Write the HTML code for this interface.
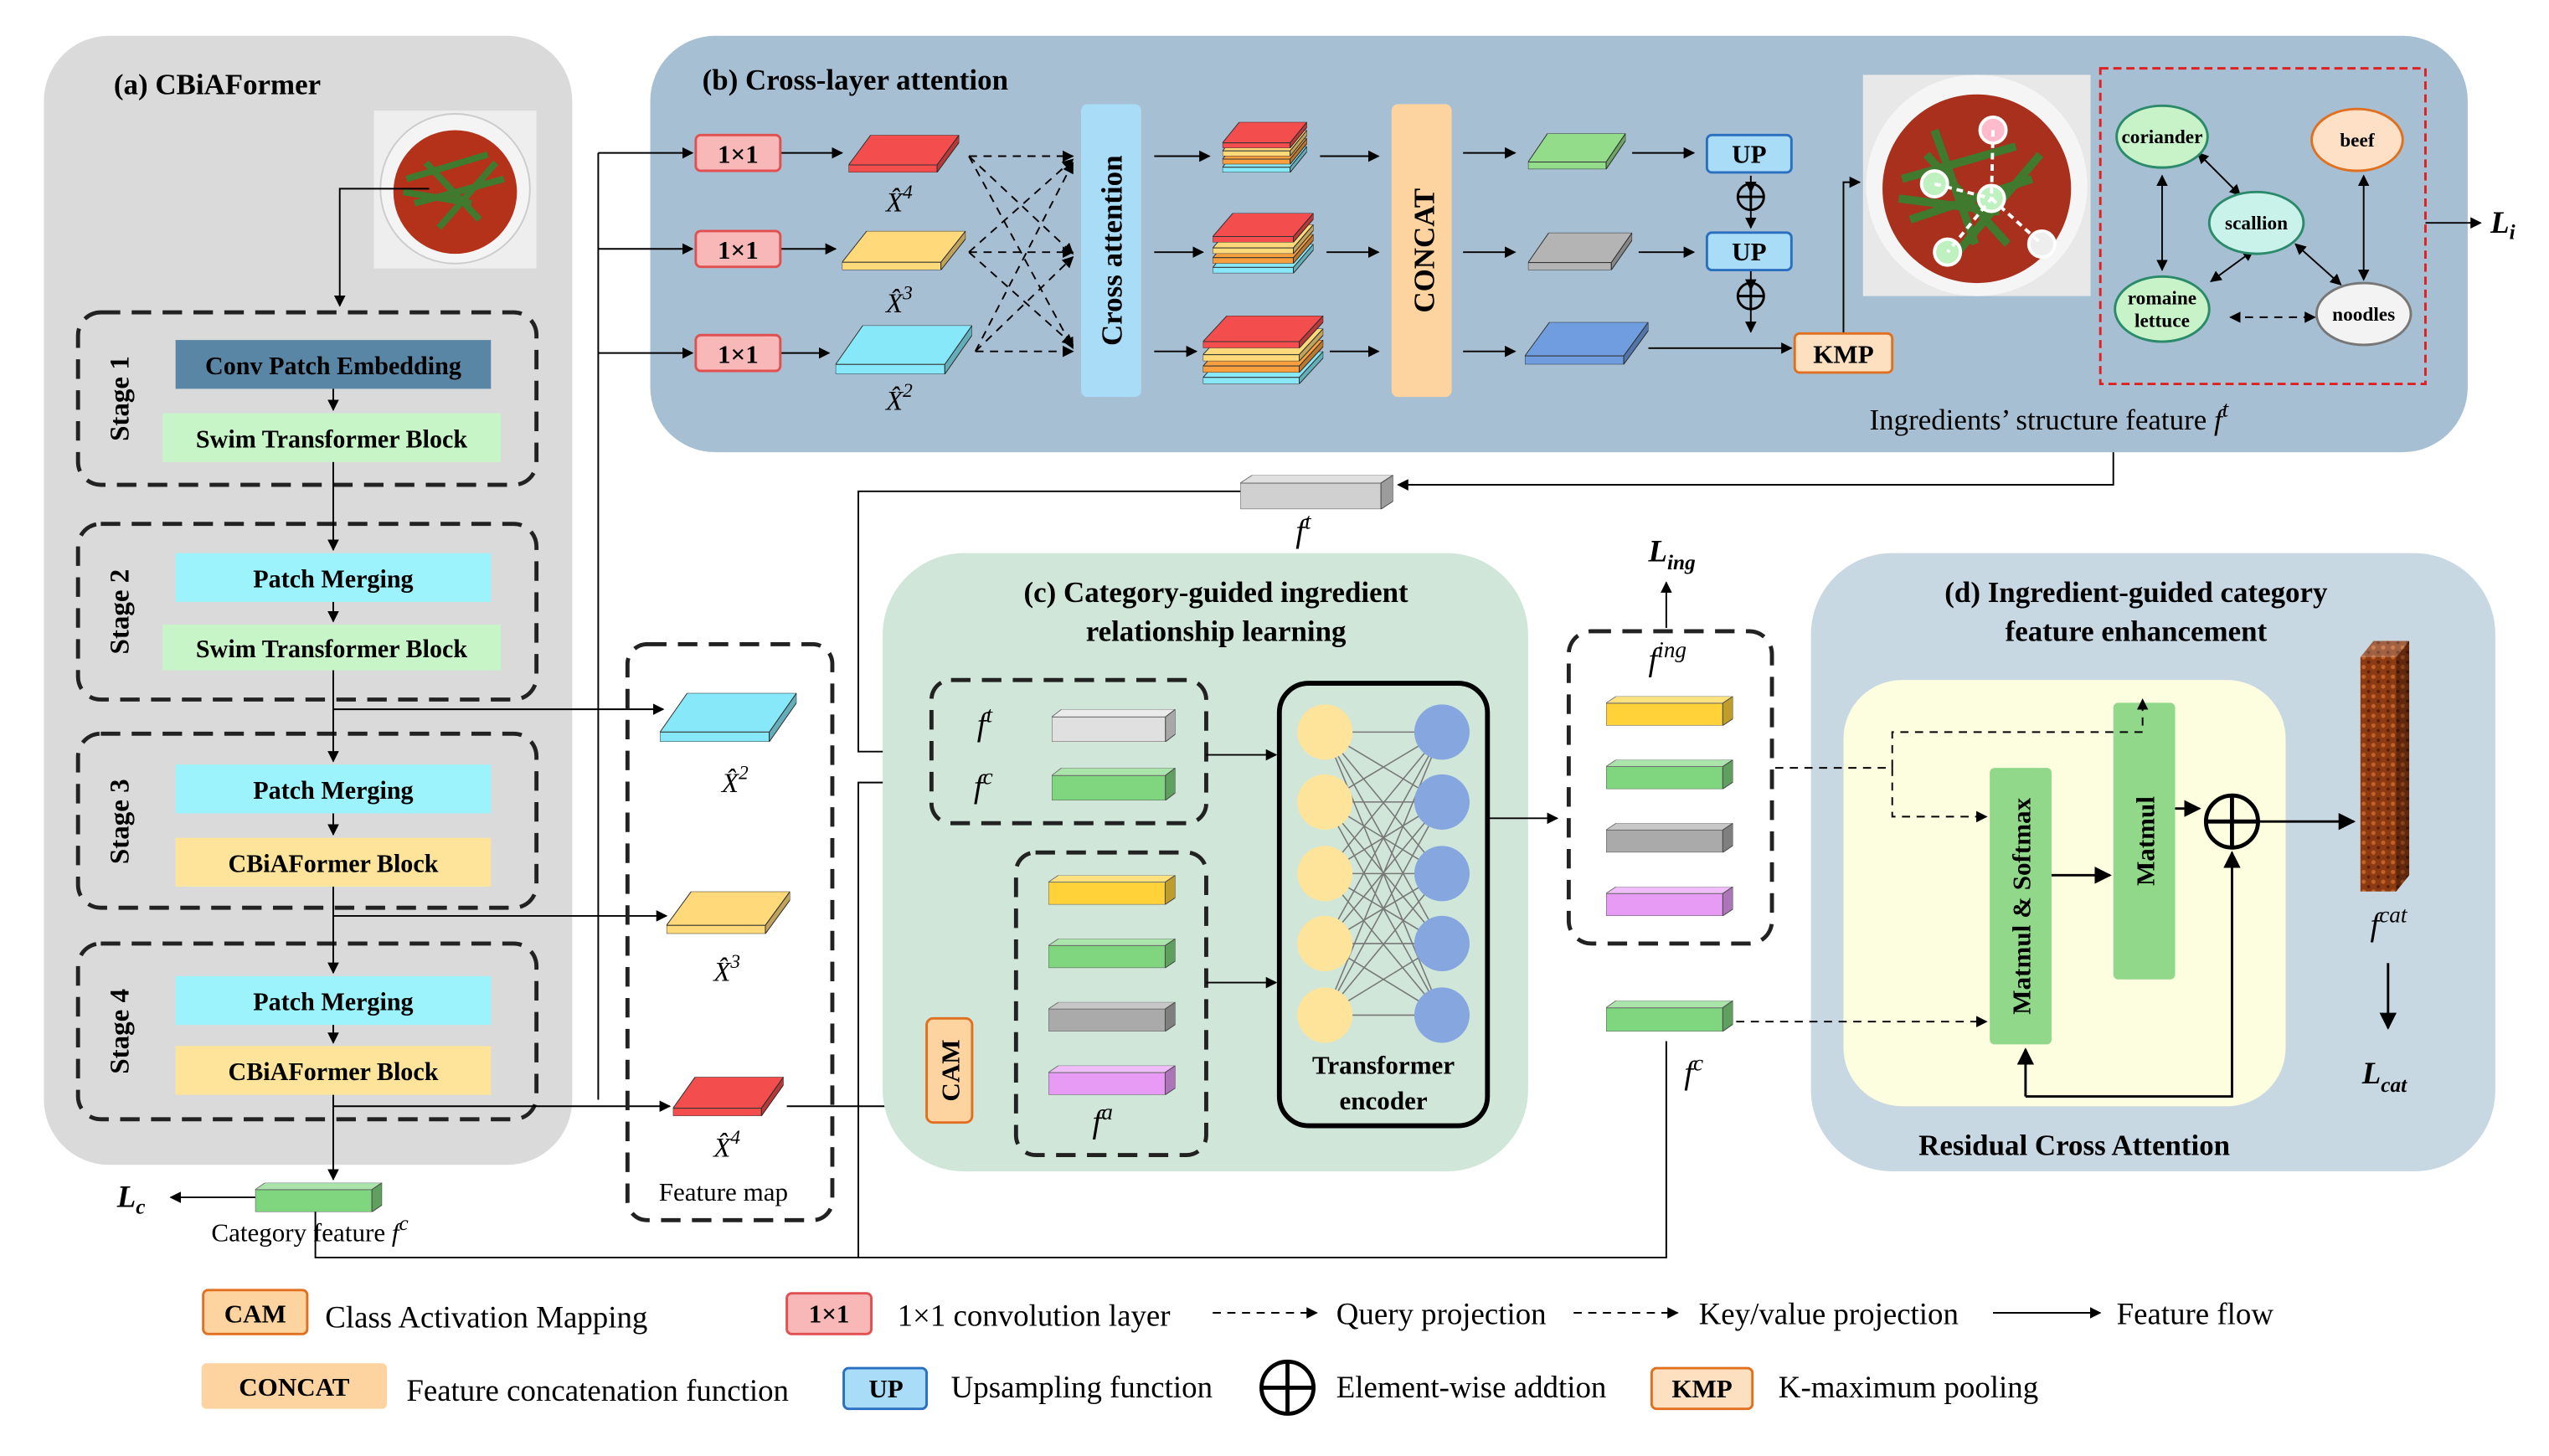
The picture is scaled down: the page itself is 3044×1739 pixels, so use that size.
<!DOCTYPE html>
<html><head><meta charset="utf-8"><style>
html,body{margin:0;padding:0;background:#fff}
svg{display:block}
text{font-family:"Liberation Serif",serif;fill:#000}
.b{font-weight:bold}
</style></head><body>
<svg width="3044" height="1739" viewBox="0 0 1568 895" preserveAspectRatio="none" xmlns="http://www.w3.org/2000/svg">
<defs>
<marker id="a" viewBox="0 0 10 10" refX="9" refY="5" markerWidth="7" markerHeight="7" orient="auto-start-reverse"><path d="M0,0 L10,5 L0,10 z" fill="#000"/></marker>
<symbol id="s" viewBox="0 0 100 30" preserveAspectRatio="none">
<rect x="0" y="7" width="92" height="23" stroke="#555" stroke-width="1" vector-effect="non-scaling-stroke"/>
<polygon points="0,7 8,0 100,0 92,7" stroke="#555" vector-effect="non-scaling-stroke"/>
<polygon points="0,7 8,0 100,0 92,7" fill="#fff" opacity=".35"/>
<polygon points="92,7 100,0 100,23 92,30" stroke="#555" vector-effect="non-scaling-stroke"/>
<polygon points="92,7 100,0 100,23 92,30" fill="#000" opacity=".25"/>
</symbol>
<symbol id="f" viewBox="0 0 100 30" preserveAspectRatio="none">
<polygon points="0,24 20,0 100,0 80,24" stroke="#333" vector-effect="non-scaling-stroke"/>
<polygon points="0,24 80,24 80,30 0,30" stroke="#333" vector-effect="non-scaling-stroke"/>
<polygon points="80,24 100,0 100,6 80,30" stroke="#333" vector-effect="non-scaling-stroke"/>
<polygon points="80,24 100,0 100,6 80,30" fill="#000" opacity=".25"/>
</symbol>
<pattern id="br" width="6" height="6" patternUnits="userSpaceOnUse"><rect width="6" height="6" fill="#8b3a12"/><circle cx="2" cy="2" r="1.3" fill="#c0622a"/><circle cx="5" cy="5" r="1" fill="#5a2008"/></pattern>
</defs>

<!-- Panel a -->
<rect x="27" y="22" width="325" height="694" rx="40" fill="#dadada"/>
<text x="70" y="58" font-size="18" class="b">(a) CBiAFormer</text>
<g>
<rect x="230" y="68" width="100" height="97" fill="#eee"/>
<circle cx="280" cy="116" r="46" fill="#f4f4f4" stroke="#ccc"/>
<circle cx="280" cy="118" r="38" fill="#b5321a"/>
<path d="M250,110 L300,95 M255,125 L310,110 M262,100 L295,135 M270,140 L305,100 M248,118 L290,125" stroke="#3f7a2e" stroke-width="4"/>
</g>
<path d="M264,116 H209 V188" fill="none" stroke="#000" marker-end="url(#a)"/>
<g fill="none" stroke="#222" stroke-width="2.5" stroke-dasharray="12,7">
<rect x="48" y="192" width="282" height="106" rx="14"/>
<rect x="48" y="322" width="282" height="108" rx="14"/>
<rect x="48" y="451" width="282" height="107" rx="14"/>
<rect x="48" y="580" width="282" height="108" rx="14"/>
</g>
<g font-size="17" class="b">
<text transform="translate(79,245) rotate(-90)" text-anchor="middle">Stage 1</text>
<text transform="translate(79,376) rotate(-90)" text-anchor="middle">Stage 2</text>
<text transform="translate(79,505) rotate(-90)" text-anchor="middle">Stage 3</text>
<text transform="translate(79,634) rotate(-90)" text-anchor="middle">Stage 4</text>
</g>
<rect x="108" y="209" width="194" height="30" fill="#5a86a6"/>
<rect x="100" y="254" width="208" height="30" fill="#c8f5c8"/>
<rect x="108" y="340" width="194" height="30" fill="#9cf3fb"/>
<rect x="100" y="384" width="208" height="28" fill="#c8f5c8"/>
<rect x="108" y="470" width="194" height="30" fill="#9cf3fb"/>
<rect x="108" y="515" width="194" height="30" fill="#fde49a"/>
<rect x="108" y="600" width="194" height="30" fill="#9cf3fb"/>
<rect x="108" y="643" width="194" height="30" fill="#fde49a"/>
<g font-size="15.5" class="b" text-anchor="middle">
<text x="205" y="230">Conv Patch Embedding</text>
<text x="204" y="275">Swim Transformer Block</text>
<text x="205" y="361">Patch Merging</text>
<text x="204" y="404">Swim Transformer Block</text>
<text x="205" y="491">Patch Merging</text>
<text x="205" y="536">CBiAFormer Block</text>
<text x="205" y="621">Patch Merging</text>
<text x="205" y="664">CBiAFormer Block</text>
</g>
<g stroke="#000" fill="none" marker-end="url(#a)">
<path d="M205,239 V252"/><path d="M205,284 V338"/><path d="M205,370 V382"/>
<path d="M205,412 V468"/><path d="M205,500 V513"/><path d="M205,545 V598"/>
<path d="M205,630 V641"/><path d="M205,673 V725"/>
<path d="M158,736 H105"/>
<path d="M205,436 H408"/><path d="M205,563 H410"/><path d="M205,680 H412"/>
</g>
<use href="#s" x="157" y="727" width="78" height="18" fill="#7fd67f"/>
<text x="72" y="742" font-size="19" class="b" font-style="italic">L<tspan font-size="13" dy="4">c</tspan></text>
<text x="130" y="763" font-size="16">Category feature <tspan font-style="italic">f</tspan><tspan font-size="13" dy="-7" font-style="italic">c</tspan></text>

<!-- Panel b -->
<rect x="400" y="22" width="1118" height="256" rx="40" fill="#a7bfd3"/>
<text x="432" y="55" font-size="18" class="b">(b) Cross-layer attention</text>
<g stroke="#000" fill="none">
<path d="M368,676 V94"/>
<path d="M368,94 H426" marker-end="url(#a)"/>
<path d="M368,153 H426" marker-end="url(#a)"/>
<path d="M368,217 H426" marker-end="url(#a)"/>
<path d="M480,94 H518" marker-end="url(#a)"/>
<path d="M480,153 H514" marker-end="url(#a)"/>
<path d="M480,217 H510" marker-end="url(#a)"/>
</g>
<g fill="#f9b8b8" stroke="#e05050" stroke-width="1.5">
<rect x="428" y="83" width="52" height="22" rx="3"/><rect x="428" y="142" width="52" height="22" rx="3"/><rect x="428" y="206" width="52" height="22" rx="3"/>
</g>
<g font-size="16" class="b" text-anchor="middle"><text x="454" y="100">1×1</text><text x="454" y="159">1×1</text><text x="454" y="223">1×1</text></g>
<use href="#f" x="522" y="83" width="68" height="23" fill="#f44d4d"/>
<use href="#f" x="518" y="142" width="76" height="24" fill="#ffd97a"/>
<use href="#f" x="514" y="200" width="84" height="30" fill="#86e8f8"/>
<g font-size="17" font-style="italic"><text x="545" y="130">X̂<tspan font-size="12" dy="-8">4</tspan></text><text x="545" y="192">X̂<tspan font-size="12" dy="-8">3</tspan></text><text x="545" y="252">X̂<tspan font-size="12" dy="-8">2</tspan></text></g>
<g stroke="#000" fill="none" stroke-dasharray="5,4" marker-end="url(#a)">
<path d="M596,96 H660"/><path d="M596,96 L660,156"/><path d="M596,96 L660,214"/>
<path d="M596,155 L660,98"/><path d="M596,155 H660"/><path d="M596,155 L660,212"/>
<path d="M600,216 L660,100"/><path d="M600,216 L660,158"/><path d="M600,216 H660"/>
</g>
<rect x="665" y="64" width="37" height="180" rx="4" fill="#a9dcf6"/>
<text transform="translate(690,154) rotate(-90)" font-size="18" class="b" text-anchor="middle">Cross attention</text>
<g stroke="#000" fill="none" marker-end="url(#a)">
<path d="M710,96 H744"/><path d="M710,155 H740"/><path d="M710,216 H736"/>
<path d="M812,96 H848"/><path d="M816,155 H848"/><path d="M818,216 H848"/>
<path d="M900,94 H932"/><path d="M900,155 H932"/><path d="M900,216 H932"/>
<path d="M1004,94 H1042"/><path d="M1008,155 H1042"/>
<path d="M1014,214 H1102"/>
<path d="M1077,108 V118"/><path d="M1077,166 V178"/>
<path d="M1077,129 V140"/><path d="M1077,190 V204"/>
<path d="M1134,205 V112 H1144"/>
<path d="M1492,137 H1526"/>
</g>
<g>
<use href="#f" x="752" y="90" width="52" height="16" fill="#86e8f8"/>
<use href="#f" x="752" y="85" width="52" height="16" fill="#f8a040"/>
<use href="#f" x="752" y="80" width="52" height="16" fill="#ffd97a"/>
<use href="#f" x="752" y="75" width="52" height="16" fill="#f44d4d"/>
<use href="#f" x="746" y="150" width="62" height="18" fill="#86e8f8"/>
<use href="#f" x="746" y="144" width="62" height="18" fill="#f8a040"/>
<use href="#f" x="746" y="138" width="62" height="18" fill="#ffd97a"/>
<use href="#f" x="746" y="131" width="62" height="18" fill="#f44d4d"/>
<use href="#f" x="740" y="216" width="74" height="20" fill="#86e8f8"/>
<use href="#f" x="740" y="209" width="74" height="20" fill="#f8a040"/>
<use href="#f" x="740" y="202" width="74" height="20" fill="#ffd97a"/>
<use href="#f" x="740" y="194" width="74" height="20" fill="#f44d4d"/>
</g>
<rect x="856" y="64" width="37" height="180" rx="4" fill="#fdd3a0"/>
<text transform="translate(882,154) rotate(-90)" font-size="18" class="b" text-anchor="middle">CONCAT</text>
<use href="#f" x="940" y="82" width="60" height="22" fill="#93dc8a"/>
<use href="#f" x="940" y="143" width="64" height="23" fill="#b4b4b4"/>
<use href="#f" x="938" y="198" width="76" height="26" fill="#6f9de0"/>
<g fill="#a9dcf6" stroke="#2a6fc0" stroke-width="1.5"><rect x="1050" y="83" width="52" height="23" rx="3"/><rect x="1050" y="143" width="52" height="23" rx="3"/></g>
<g font-size="16" class="b" text-anchor="middle"><text x="1076" y="100">UP</text><text x="1076" y="160">UP</text></g>
<g fill="none" stroke="#000" stroke-width="1.5"><circle cx="1077" cy="121" r="8"/><path d="M1069,121 H1085 M1077,113 V129"/><circle cx="1077" cy="182" r="8"/><path d="M1069,182 H1085 M1077,174 V190"/></g>
<rect x="1104" y="205" width="60" height="24" rx="3" fill="#fde0c0" stroke="#e07020" stroke-width="1.5"/>
<text x="1134" y="223" font-size="16" class="b" text-anchor="middle">KMP</text>
<g>
<rect x="1146" y="46" width="140" height="136" fill="#e8e8e8"/>
<circle cx="1216" cy="114" r="68" fill="#f5f5f5"/>
<circle cx="1216" cy="116" r="58" fill="#a8301c"/>
<path d="M1170,110 L1240,90 M1175,135 L1250,110 M1185,95 L1235,150 M1200,160 L1255,95 M1168,122 L1230,130 M1190,80 L1215,150" stroke="#3f7a2e" stroke-width="5"/>
<g fill="#bff0c0" stroke="#fff" stroke-width="2"><circle cx="1190" cy="113" r="8"/><circle cx="1225" cy="122" r="8"/><circle cx="1198" cy="155" r="8"/><circle cx="1226" cy="80" r="8" fill="#fbc"/><circle cx="1256" cy="150" r="8" fill="#eee"/></g>
<path d="M1190,113 L1225,122 L1198,155 M1226,80 L1225,122 M1225,122 L1256,150" stroke="#fff" stroke-width="2" stroke-dasharray="4,3" fill="none"/>
</g>
<rect x="1292" y="42" width="200" height="194" fill="none" stroke="#e02020" stroke-width="1.5" stroke-dasharray="5,3"/>
<g stroke="#000" fill="none" marker-end="url(#a)" marker-start="url(#a)">
<path d="M1352,94 L1378,120"/><path d="M1330,108 V166"/><path d="M1360,173 L1386,154"/>
<path d="M1412,150 L1440,175"/><path d="M1454,108 V172"/>
<path d="M1372,195 H1424" stroke-dasharray="5,4"/>
</g>
<g stroke-width="1.5">
<ellipse cx="1330" cy="84" rx="28" ry="19" fill="#c8f2c8" stroke="#2a8a6a"/>
<ellipse cx="1450" cy="86" rx="28" ry="19" fill="#fde0c6" stroke="#e07020"/>
<ellipse cx="1388" cy="137" rx="29" ry="19" fill="#c8f2ea" stroke="#2a8a6a"/>
<ellipse cx="1330" cy="190" rx="29" ry="20" fill="#c8f2c8" stroke="#2a8a6a"/>
<ellipse cx="1454" cy="193" rx="29" ry="19" fill="#f3f3f3" stroke="#777"/>
</g>
<g font-size="12" class="b" text-anchor="middle">
<text x="1330" y="88">coriander</text><text x="1450" y="90">beef</text><text x="1388" y="141">scallion</text>
<text x="1330" y="187">romaine</text><text x="1330" y="201">lettuce</text><text x="1454" y="197">noodles</text>
</g>
<text x="1532" y="143" font-size="19" class="b" font-style="italic">L<tspan font-size="13" dy="4">i</tspan></text>
<text x="1150" y="264" font-size="18">Ingredients’ structure feature <tspan font-style="italic">f</tspan><tspan font-size="14" dy="-8" font-style="italic">t</tspan></text>

<!-- link ft -->
<g stroke="#000" fill="none">
<path d="M1300,278 V298 H860" marker-end="url(#a)"/>
<path d="M764,302 H528 V462 H570" marker-end="url(#a)"/>
<path d="M1025,640 V773 H194 V745"/>
<path d="M528,773 V481 H570" marker-end="url(#a)"/>
<path d="M484,680 H566" marker-end="url(#a)"/>
</g>
<use href="#s" x="763" y="292" width="94" height="21" fill="#d0d0d0"/>
<text x="797" y="333" font-size="20" font-style="italic">f<tspan font-size="14" dy="-8">t</tspan></text>

<!-- feature map -->
<rect x="386" y="396" width="126" height="354" rx="12" fill="none" stroke="#222" stroke-width="2.5" stroke-dasharray="12,7"/>
<use href="#f" x="406" y="426" width="84" height="30" fill="#86e8f8"/>
<use href="#f" x="410" y="548" width="76" height="26" fill="#ffd97a"/>
<use href="#f" x="414" y="662" width="68" height="24" fill="#f44d4d"/>
<g font-size="17" font-style="italic"><text x="444" y="487">X̂<tspan font-size="12" dy="-8">2</tspan></text><text x="439" y="603">X̂<tspan font-size="12" dy="-8">3</tspan></text><text x="439" y="711">X̂<tspan font-size="12" dy="-8">4</tspan></text></g>
<text x="445" y="738" font-size="16" text-anchor="middle">Feature map</text>

<!-- Panel c -->
<rect x="543" y="340" width="397" height="380" rx="50" fill="#cfe6d9"/>
<g font-size="18" class="b" text-anchor="middle"><text x="748" y="370">(c) Category-guided ingredient</text><text x="748" y="394">relationship learning</text></g>
<g fill="none" stroke="#222" stroke-width="2.5" stroke-dasharray="12,7">
<rect x="573" y="418" width="169" height="88" rx="12"/>
<rect x="625" y="524" width="117" height="186" rx="12"/>
</g>
<text x="601" y="452" font-size="20" font-style="italic">f<tspan font-size="14" dy="-8">t</tspan></text>
<text x="599" y="490" font-size="20" font-style="italic">f<tspan font-size="14" dy="-8">c</tspan></text>
<use href="#s" x="647" y="436" width="76" height="20" fill="#e0e0e0"/>
<use href="#s" x="647" y="472" width="76" height="20" fill="#7fd67f"/>
<use href="#s" x="645" y="538" width="78" height="18" fill="#ffd23a"/>
<use href="#s" x="645" y="577" width="78" height="18" fill="#7fd67f"/>
<use href="#s" x="645" y="616" width="78" height="18" fill="#aaaaaa"/>
<use href="#s" x="645" y="655" width="78" height="18" fill="#e79bf5"/>
<text x="672" y="696" font-size="20" font-style="italic">f<tspan font-size="14" dy="-8">a</tspan></text>
<rect x="570" y="626" width="28" height="64" rx="4" fill="#fdd3a0" stroke="#e07020" stroke-width="1.5"/>
<text transform="translate(590,658) rotate(-90)" font-size="16" class="b" text-anchor="middle">CAM</text>
<rect x="787" y="420" width="128" height="272" rx="18" fill="none" stroke="#000" stroke-width="3"/>
<g stroke="#777" stroke-width="0.8">
<path d="M815,450 L887,450 M815,450 L887,493 M815,450 L887,537 M815,450 L887,580 M815,450 L887,624
M815,493 L887,450 M815,493 L887,493 M815,493 L887,537 M815,493 L887,580 M815,493 L887,624
M815,537 L887,450 M815,537 L887,493 M815,537 L887,537 M815,537 L887,580 M815,537 L887,624
M815,580 L887,450 M815,580 L887,493 M815,580 L887,537 M815,580 L887,580 M815,580 L887,624
M815,624 L887,450 M815,624 L887,493 M815,624 L887,537 M815,624 L887,580 M815,624 L887,624"/>
</g>
<g fill="#fde49a"><circle cx="815" cy="450" r="17"/><circle cx="815" cy="493" r="17"/><circle cx="815" cy="537" r="17"/><circle cx="815" cy="580" r="17"/><circle cx="815" cy="624" r="17"/></g>
<g fill="#86a6e0"><circle cx="887" cy="450" r="17"/><circle cx="887" cy="493" r="17"/><circle cx="887" cy="537" r="17"/><circle cx="887" cy="580" r="17"/><circle cx="887" cy="624" r="17"/></g>
<g font-size="16" class="b" text-anchor="middle"><text x="851" y="660">Transformer</text><text x="851" y="682">encoder</text></g>
<g stroke="#000" fill="none" marker-end="url(#a)">
<path d="M742,464 H785"/><path d="M742,604 H785"/><path d="M915,503 H958"/>
<path d="M1025,386 V358"/>
</g>

<!-- f_ing -->
<rect x="965" y="388" width="125" height="192" rx="14" fill="none" stroke="#222" stroke-width="2.5" stroke-dasharray="12,7"/>
<text x="1014" y="412" font-size="20" font-style="italic">f<tspan font-size="14" dy="-8">ing</tspan></text>
<text x="1014" y="345" font-size="19" class="b" font-style="italic">L<tspan font-size="13" dy="5">ing</tspan></text>
<use href="#s" x="988" y="428" width="78" height="18" fill="#ffd23a"/>
<use href="#s" x="988" y="467" width="78" height="18" fill="#7fd67f"/>
<use href="#s" x="988" y="506" width="78" height="18" fill="#aaaaaa"/>
<use href="#s" x="988" y="545" width="78" height="18" fill="#e79bf5"/>
<use href="#s" x="988" y="615" width="78" height="19" fill="#7fd67f"/>
<text x="1036" y="666" font-size="20" font-style="italic">f<tspan font-size="14" dy="-8">c</tspan></text>

<!-- Panel d -->
<rect x="1114" y="340" width="421" height="380" rx="50" fill="#c8d8e3"/>
<g font-size="18" class="b" text-anchor="middle"><text x="1314" y="370">(d) Ingredient-guided category</text><text x="1314" y="394">feature enhancement</text></g>
<rect x="1134" y="418" width="272" height="262" rx="36" fill="#fdfde0"/>
<rect x="1224" y="472" width="38" height="170" rx="3" fill="#92d88a"/>
<rect x="1300" y="432" width="38" height="170" rx="3" fill="#92d88a"/>
<text transform="translate(1249,557) rotate(-90)" font-size="16" class="b" text-anchor="middle">Matmul &amp; Softmax</text>
<text transform="translate(1325,517) rotate(-90)" font-size="16" class="b" text-anchor="middle">Matmul</text>
<g stroke="#000" fill="none" stroke-dasharray="5,4">
<path d="M1092,472 H1164 V450 H1318 V430" marker-end="url(#a)"/>
<path d="M1164,472 V502 H1222" marker-end="url(#a)"/>
<path d="M1068,628 H1222" marker-end="url(#a)"/>
</g>
<g stroke="#000" fill="none" stroke-width="1.5">
<path d="M1262,538 H1298" marker-end="url(#a)"/>
<path d="M1338,497 H1353" marker-end="url(#a)"/>
<path d="M1246,674 V645" marker-end="url(#a)"/>
<path d="M1246,674 H1373 V524" marker-end="url(#a)"/>
<path d="M1390,505 H1448" marker-end="url(#a)"/>
<path d="M1469,592 V632" marker-end="url(#a)"/>
</g>
<g fill="none" stroke="#000" stroke-width="2.5"><circle cx="1373" cy="505" r="16"/><path d="M1357,505 H1389 M1373,489 V521"/></g>
<polygon points="1452,404 1460,394 1482,394 1482,538 1474,548 1452,548" fill="url(#br)"/>
<polygon points="1474,404 1482,394 1482,538 1474,548" fill="#000" opacity=".3"/>
<polygon points="1452,404 1460,394 1482,394 1474,404" fill="#fff" opacity=".2"/>
<text x="1458" y="575" font-size="20" font-style="italic">f<tspan font-size="14" dy="-8">cat</tspan></text>
<text x="1453" y="666" font-size="19" class="b" font-style="italic">L<tspan font-size="13" dy="5">cat</tspan></text>
<text x="1276" y="710" font-size="18" class="b" text-anchor="middle">Residual Cross Attention</text>

<!-- Legend -->
<rect x="125" y="793" width="64" height="27" rx="3" fill="#fdd3a0" stroke="#e07020" stroke-width="1.5"/>
<text x="157" y="813" font-size="16" class="b" text-anchor="middle">CAM</text>
<text x="200" y="816" font-size="19">Class Activation Mapping</text>
<rect x="484" y="795" width="52" height="25" rx="3" fill="#f9b8b8" stroke="#e05050" stroke-width="1.5"/>
<text x="510" y="813" font-size="16" class="b" text-anchor="middle">1×1</text>
<text x="552" y="815" font-size="19">1×1 convolution layer</text>
<g stroke="#000" fill="none" marker-end="url(#a)">
<path d="M746,807 H810" stroke-dasharray="5,4"/>
<path d="M968,807 H1032" stroke-dasharray="5,4"/>
<path d="M1226,807 H1292"/>
</g>
<text x="822" y="814" font-size="19">Query projection</text>
<text x="1045" y="814" font-size="19">Key/value projection</text>
<text x="1302" y="814" font-size="19">Feature flow</text>
<rect x="124" y="838" width="114" height="28" rx="3" fill="#fdd3a0"/>
<text x="181" y="858" font-size="16" class="b" text-anchor="middle">CONCAT</text>
<text x="250" y="861" font-size="19">Feature concatenation function</text>
<rect x="519" y="841" width="51" height="25" rx="3" fill="#a9dcf6" stroke="#2a6fc0" stroke-width="1.5"/>
<text x="545" y="859" font-size="16" class="b" text-anchor="middle">UP</text>
<text x="585" y="859" font-size="19">Upsampling function</text>
<g fill="none" stroke="#000" stroke-width="2.5"><circle cx="792" cy="853" r="16"/><path d="M776,853 H808 M792,837 V869"/></g>
<text x="822" y="859" font-size="19">Element-wise addtion</text>
<rect x="1016" y="841" width="62" height="25" rx="3" fill="#fde0c0" stroke="#e07020" stroke-width="1.5"/>
<text x="1047" y="859" font-size="16" class="b" text-anchor="middle">KMP</text>
<text x="1094" y="859" font-size="19">K-maximum pooling</text>
</svg>
</body></html>
